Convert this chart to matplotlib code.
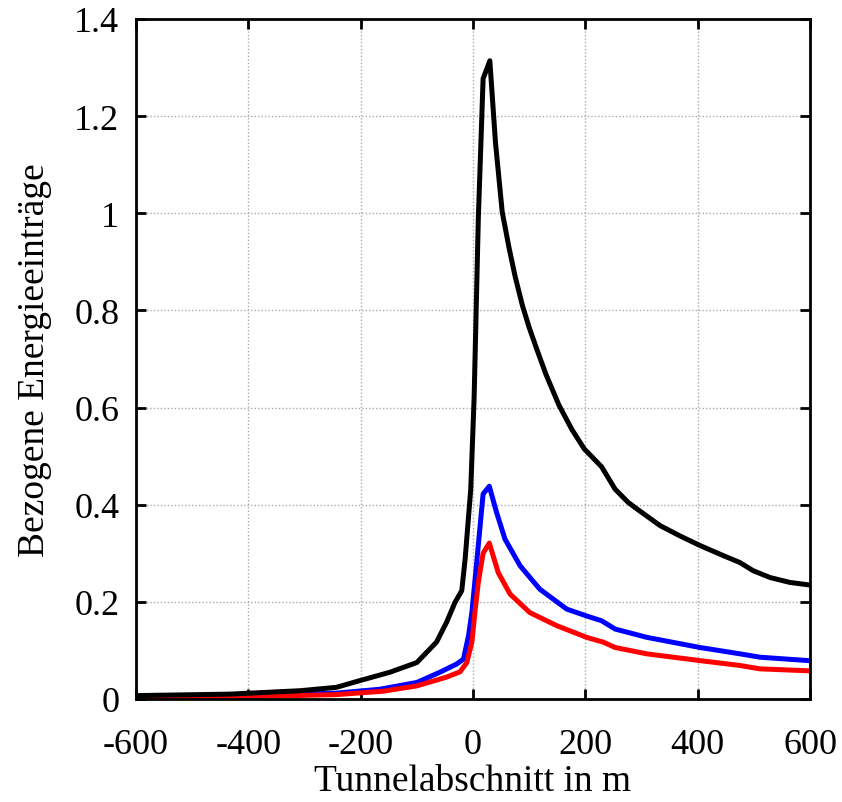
import numpy as np
import matplotlib
matplotlib.use("Agg")
import matplotlib.pyplot as plt

# Tunnelabschnitt (m) and bezogene Energieeinträge
black_x = [-596, -432, -308, -243, -201, -148, -100, -65, -47, -32, -20, -14, -4, 2, 9.5, 18, 30, 40, 52, 64, 75,
           88, 100, 113, 130, 153, 176, 198, 229, 253, 276, 291, 333, 368, 404, 446, 475, 499, 529, 564, 597]
black_y = [0.007, 0.010, 0.017, 0.024, 0.038, 0.055, 0.075, 0.117, 0.158, 0.199, 0.223, 0.288, 0.432, 0.62, 0.99,
           1.277, 1.314, 1.146, 1.003, 0.93, 0.87, 0.81, 0.765, 0.722, 0.668, 0.605, 0.555, 0.515, 0.478, 0.432,
           0.405, 0.392, 0.357, 0.336, 0.316, 0.295, 0.281, 0.264, 0.25, 0.24, 0.235]

blue_x = [-590, -432, -243, -166, -100, -59, -29, -17, -8, -2, 6.5, 18, 29, 42, 57, 84, 119, 167, 202, 229, 253,
          309, 404, 475, 511, 597]
blue_y = [0.005, 0.006, 0.012, 0.02, 0.034, 0.055, 0.072, 0.082, 0.130, 0.178, 0.28, 0.422, 0.438, 0.384, 0.329,
          0.274, 0.226, 0.185, 0.171, 0.161, 0.144, 0.127, 0.106, 0.093, 0.086, 0.079]

red_x = [-590, -432, -243, -160, -100, -47, -23, -11, -2, 4, 9.5, 18, 29, 45, 66, 101, 149, 202, 232, 253, 309,
         404, 475, 511, 597]
red_y = [0.003, 0.004, 0.009, 0.016, 0.027, 0.045, 0.056, 0.075, 0.117, 0.185, 0.24, 0.30, 0.321, 0.26, 0.216,
         0.178, 0.151, 0.127, 0.117, 0.106, 0.093, 0.079, 0.069, 0.062, 0.058]

x_ticks = [-600, -400, -200, 0, 200, 400, 600]
y_ticks = [0, 0.2, 0.4, 0.6, 0.8, 1.0, 1.2, 1.4]
y_labels = ["0", "0.2", "0.4", "0.6", "0.8", "1", "1.2", "1.4"]

plt.rcParams['font.family'] = ['Liberation Serif', 'DejaVu Serif']
plt.rcParams['axes.unicode_minus'] = False

fig = plt.figure(figsize=(8.42, 8.03), dpi=100)
ax = fig.add_axes([0.1615, 0.1283, 0.8005, 0.8468])

ax.plot(blue_x, blue_y, color='#0000ff', lw=3.6)
ax.plot(red_x, red_y, color='#ff0000', lw=3.6)
ax.plot(black_x, black_y, color='black', lw=3.6)

ax.set_xlim(-600, 600)
ax.set_ylim(0, 1.4)
ax.set_xticks(x_ticks)
ax.set_xticklabels([str(t) for t in x_ticks])
ax.set_yticks(y_ticks)
ax.set_yticklabels(y_labels)

ax.grid(True, color='#aaaaaa', linestyle=(0, (1, 1.5)), lw=1)
ax.tick_params(direction='in', top=True, right=True, length=7, width=2, labelsize=26)
ax.tick_params(axis='x', pad=21)
ax.tick_params(axis='y', pad=12)
for s in ax.spines.values():
    s.set_linewidth(2)

ax.set_xlabel('Tunnelabschnitt in m', fontsize=27, labelpad=2)
ax.set_ylabel('Bezogene Energieeinträge', fontsize=27, labelpad=16)

fig.savefig('out.png', dpi=100)
